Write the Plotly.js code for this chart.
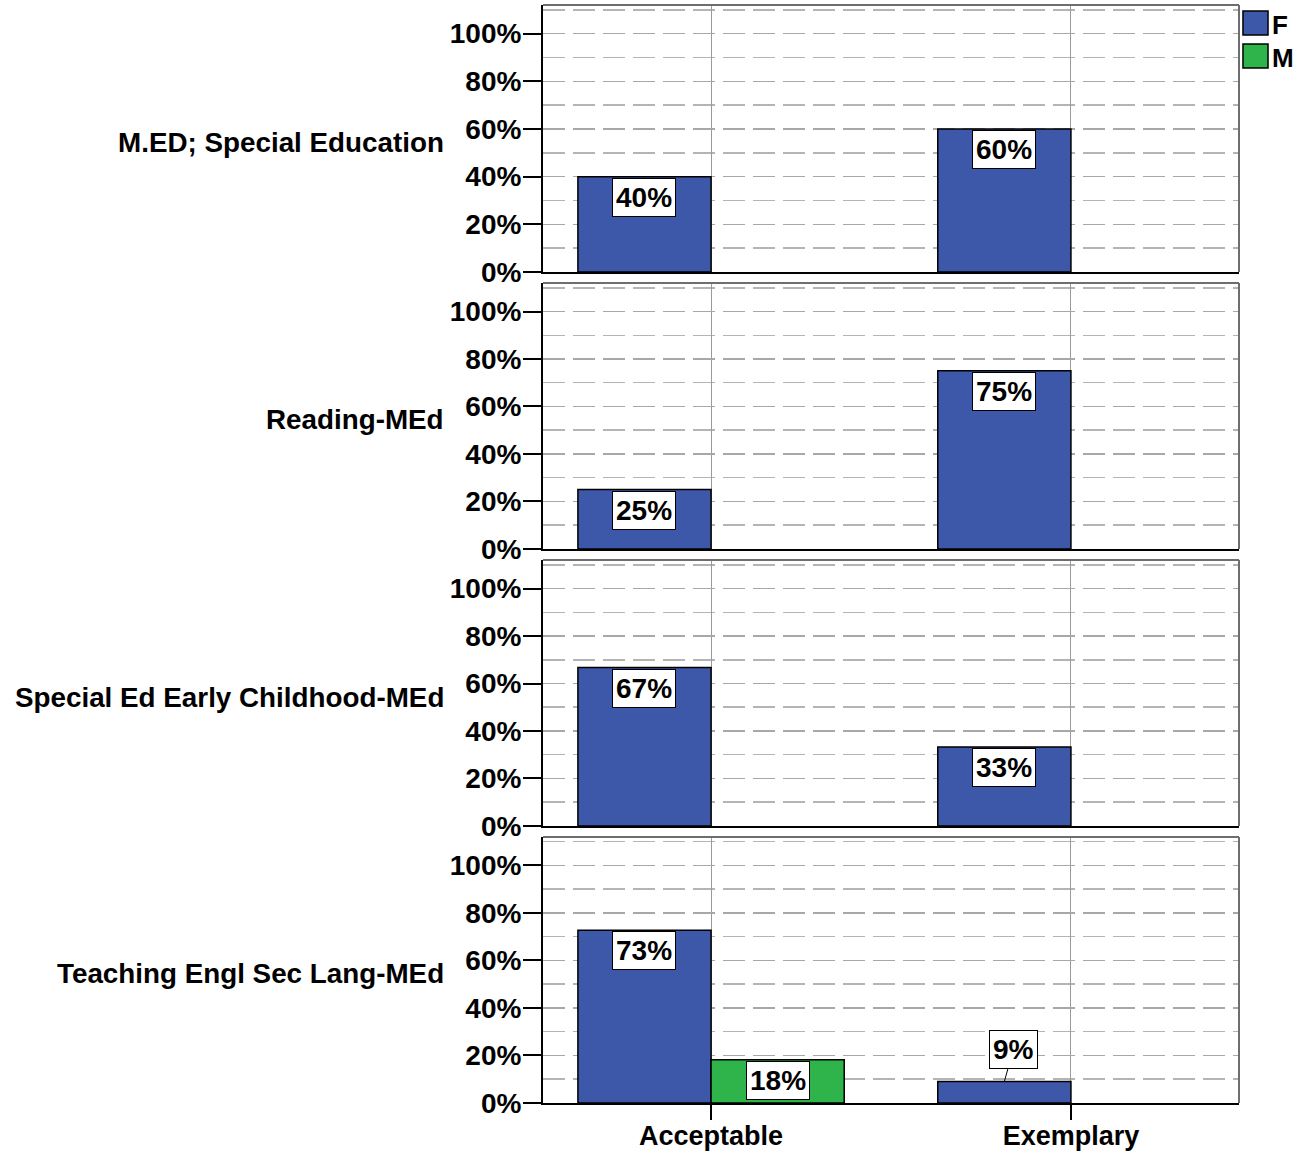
<!DOCTYPE html>
<html><head><meta charset="utf-8">
<script src="https://cdn.plot.ly/plotly-3.0.1.min.js"></script>
<style>html,body{margin:0;padding:0;background:#fff}</style>
</head><body><div id="chart" style="width:1297px;height:1154px"></div>
<script>
// ---- data ----
const categories = ['Acceptable', 'Exemplary'];
const programs = ['M.ED; Special Education', 'Reading-MEd', 'Special Ed Early Childhood-MEd', 'Teaching Engl Sec Lang-MEd'];
const seriesNames = ['F', 'M'];
const valuesF = [[40, 60], [25, 75], [66.7, 33.3], [72.7, 9.1]];
const valuesM = [[null, null], [null, null], [null, null], [18.2, null]];
const yTickVals = [0, 20, 40, 60, 80, 100];
const yTickText = ['0%', '20%', '40%', '60%', '80%', '100%'];

// ---- styles ----
const colors = ['#3d57a9', '#2eb44b'];
const FONT = 'Liberation Sans, Arial, sans-serif';
const domains = [[0.7568, 1], [0.5046, 0.7468], [0.2523, 0.4945], [0, 0.2423]];
const series = [valuesF, valuesM];

const data = [];
const annotations = [];
const shapes = [];
const layout = {
  width: 1297, height: 1154,
  margin: {l: 543, r: 58, t: 5, b: 51},
  barmode: 'group', bargap: 0.26, bargroupgap: 0,
  showlegend: false,
  paper_bgcolor: '#fff', plot_bgcolor: '#fff',
  font: {family: FONT, size: 28, color: '#000', weight: 'bold'},
  hovermode: false
};

programs.forEach((prog, i) => {
  const s = i === 0 ? '' : String(i + 1);
  const xa = 'x' + s, ya = 'y' + s;
  layout['xaxis' + s] = {
    domain: [0, 1], anchor: ya, type: 'category',
    range: [-0.467, 1.467],
    showgrid: true, gridcolor: '#9a9a9a', gridwidth: 1,
    showline: true, linecolor: '#000', linewidth: 2,
    zeroline: false,
    ticks: i === programs.length - 1 ? 'outside' : '', ticklen: 15, tickwidth: 2, tickcolor: '#000',
    ticklabelstandoff: -7,
    showticklabels: i === programs.length - 1,
    tickfont: {family: FONT, size: 27, weight: 'bold', color: '#000'}
  };
  if (i > 0) layout['xaxis' + s].matches = 'x';
  layout['yaxis' + s] = {
    domain: domains[i], anchor: xa,
    range: [0, 112],
    tickmode: 'array', tickvals: yTickVals, ticktext: yTickText,
    ticks: 'outside', ticklen: 18, tickwidth: 2, tickcolor: '#000',
    ticklabelstandoff: -4,
    showline: true, linecolor: '#000', linewidth: 2,
    zeroline: false,
    showgrid: true, gridcolor: '#a8a8a8', gridwidth: 1.5, griddash: '22px,8px',
    minor: {tickmode: 'linear', tick0: 0, dtick: 10, showgrid: true, gridcolor: '#b4b4b4', gridwidth: 1.5, griddash: '22px,8px', ticks: ''},
    tickfont: {family: FONT, size: 28, weight: 'bold', color: '#000'}
  };
  series.forEach((vals, k) => {
    data.push({
      type: 'bar', name: seriesNames[k],
      x: categories, y: vals[i],
      xaxis: xa, yaxis: ya,
      offsetgroup: seriesNames[k],
      marker: {color: colors[k], line: {color: '#000', width: 1.5}},
      hoverinfo: 'skip'
    });
    vals[i].forEach((v, c) => {
      if (v === null) return;
      const xpos = c + (k === 0 ? -0.185 : 0.185);
      const ann = {
        x: xpos, y: v, xref: xa, yref: ya,
        text: Math.round(v) + '%',
        font: {family: FONT, size: 28, weight: 'bold', color: '#000'},
        bgcolor: '#fff', bordercolor: '#000', borderwidth: 1, borderpad: 3
      };
      if (v < 15) {
        Object.assign(ann, {showarrow: true, ax: 9, ay: -32, arrowhead: 0, arrowwidth: 1, arrowcolor: '#000'});
      } else {
        Object.assign(ann, {showarrow: false, yanchor: 'top', yshift: -1});
      }
      annotations.push(ann);
    });
  });
  // panel title
  annotations.push({
    text: prog, xref: 'paper', x: -0.1394, xanchor: 'right',
    yref: ya + ' domain', y: 0.5, yanchor: 'middle', yshift: -4,
    showarrow: false,
    font: {family: FONT, size: 27.8, weight: 'bold', color: '#000'}
  });
  // gray frame top & right
  shapes.push({type: 'line', xref: xa + ' domain', yref: ya + ' domain', x0: 0, x1: 1, y0: 1, y1: 1, line: {color: '#6e6e6e', width: 2}});
  shapes.push({type: 'line', xref: xa + ' domain', yref: ya + ' domain', x0: 1, x1: 1, y0: 0, y1: 1, line: {color: '#6e6e6e', width: 2}});
});

// custom legend
const legY = [[0.9727, 0.9945, 0.9836], [0.9426, 0.9645, 0.9536]];
seriesNames.forEach((nm, k) => {
  shapes.push({type: 'rect', xref: 'paper', yref: 'paper', x0: 1.0057, x1: 1.0417, y0: legY[k][0], y1: legY[k][1],
    fillcolor: colors[k], line: {color: '#000', width: 1.5}});
  annotations.push({text: nm, xref: 'paper', yref: 'paper', x: 1.0445, y: legY[k][2], xanchor: 'left', yanchor: 'middle',
    yshift: -2, showarrow: false, font: {family: FONT, size: 26, weight: 'bold', color: '#000'}});
});

layout.annotations = annotations;
layout.shapes = shapes;
Plotly.newPlot('chart', data, layout, {displayModeBar: false, staticPlot: true});
</script></body></html>
